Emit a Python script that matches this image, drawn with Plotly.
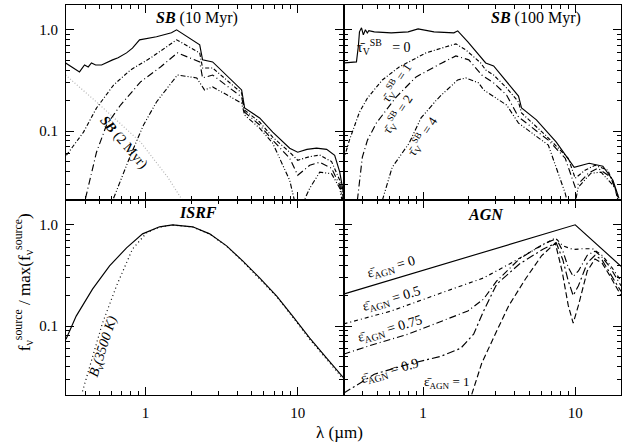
import math
import plotly.graph_objects as go
from plotly.subplots import make_subplots

FONT = "Liberation Serif, Times New Roman, DejaVu Serif, serif"

# ---------------- data (wavelength in micron, normalised flux) ----------------
# SB 10 Myr
sb10_wl_t0 = [0.298, 0.33, 0.368, 0.397, 0.42, 0.441, 0.47, 0.514, 0.56, 0.607, 0.66, 0.75, 0.82, 0.913,
              1.18, 1.48, 1.6, 2.27, 2.37, 2.76, 4.28, 4.48, 5.62, 6.85, 8.86, 10.0, 11.5, 13.3, 15.5,
              17.5, 18.9, 20.1]
sb10_f_t0 = [0.471, 0.43, 0.384, 0.45, 0.43, 0.471, 0.45, 0.45, 0.48, 0.505, 0.53, 0.592, 0.66, 0.796,
             0.853, 0.934, 1.0, 0.71, 0.505, 0.482, 0.255, 0.169, 0.135, 0.0977, 0.0679, 0.0619, 0.066,
             0.068, 0.066, 0.0578, 0.0393, 0.0232]
sb10_wl_t1 = [0.302, 0.391, 0.476, 0.616, 0.797, 1.079, 1.6, 2.27, 2.37, 2.76, 4.28, 4.48, 5.62, 6.85,
              8.86, 10.0, 12.0, 13.95, 16.7, 18.9, 20.1]
sb10_f_t1 = [0.0578, 0.0977, 0.169, 0.285, 0.402, 0.528, 0.796, 0.592, 0.42, 0.42, 0.238, 0.161, 0.123,
             0.0872, 0.0619, 0.0516, 0.056, 0.058, 0.05, 0.0327, 0.0207]
sb10_wl_t2 = [0.403, 0.476, 0.554, 0.685, 0.927, 1.255, 1.62, 2.27, 2.37, 2.76, 4.28, 4.48, 5.62, 6.85,
              8.86, 10.0, 12.0, 13.95, 16.7, 18.9, 20.1]
sb10_f_t2 = [0.0217, 0.0619, 0.115, 0.181, 0.306, 0.430, 0.592, 0.482, 0.335, 0.358, 0.217, 0.154, 0.115,
             0.0814, 0.054, 0.0367, 0.046, 0.0493, 0.043, 0.0292, 0.0185]
sb10_wl_t4 = [0.616, 0.797, 0.970, 1.18, 1.62, 2.17, 2.44, 2.76, 4.28, 4.48, 5.62, 6.85, 8.86, 10.0,
              12.0, 13.95, 16.7, 18.9, 20.1]
sb10_f_t4 = [0.0217, 0.0578, 0.115, 0.194, 0.358, 0.335, 0.255, 0.273, 0.189, 0.144, 0.107, 0.076,
             0.0327, 0.015, 0.0273, 0.0393, 0.038, 0.0273, 0.0165]
sb2_wl = [0.298, 0.476, 0.927, 1.4, 1.75, 2.0]
sb2_f = [0.358, 0.194, 0.078, 0.035, 0.0207, 0.016]

# SB 100 Myr
sb100_wl_t0 = [0.305, 0.365, 0.376, 0.382, 0.394, 0.405, 0.418, 0.43, 0.44, 0.478, 0.618, 0.798, 0.927,
               1.18, 1.595, 1.69, 1.97, 2.32, 2.58, 2.91, 3.54, 4.24, 4.44, 5.56, 7.51, 9.85, 12.35,
               15.2, 17.7, 19.4]
sb100_f_t0 = [0.471, 0.482, 0.7, 0.955, 1.047, 0.892, 1.0, 0.93, 0.98, 0.955, 0.934, 0.955, 1.02, 0.955,
              0.934, 0.977, 0.76, 0.57, 0.471, 0.44, 0.306, 0.222, 0.169, 0.129, 0.078, 0.044, 0.0482,
              0.045, 0.0327, 0.0217]
sb100_wl_t1 = [0.300, 0.328, 0.382, 0.431, 0.540, 0.697, 1.046, 1.643, 1.91, 2.39, 2.58, 2.91, 3.54, 4.24,
               4.44, 6.37, 9.0, 10.0, 11.6, 13.5, 16.4, 19.1]
sb100_f_t1 = [0.0516, 0.0814, 0.154, 0.212, 0.320, 0.430, 0.592, 0.727, 0.634, 0.471, 0.402, 0.358,
              0.267, 0.194, 0.151, 0.0913, 0.054, 0.0343, 0.0411, 0.046, 0.0411, 0.0232]
sb100_wl_t2 = [0.370, 0.399, 0.431, 0.493, 0.666, 0.900, 1.331, 1.643, 2.00, 2.43, 2.91, 3.54, 4.24,
               6.66, 8.60, 10.0, 12.2, 14.1, 17.2, 19.1]
sb100_f_t2 = [0.0207, 0.0553, 0.0814, 0.120, 0.217, 0.343, 0.471, 0.553, 0.505, 0.358, 0.299, 0.227,
              0.138, 0.0814, 0.054, 0.0279, 0.0384, 0.043, 0.035, 0.0222]
sb100_wl_t4 = [0.540, 0.627, 0.810, 0.970, 1.216, 1.311, 1.69, 1.91, 2.32, 2.50, 3.54, 4.24, 6.66, 8.60,
               9.5, 10.46, 12.7, 14.8, 18.2, 19.1]
sb100_f_t4 = [0.0207, 0.044, 0.076, 0.135, 0.20, 0.225, 0.32, 0.335, 0.299, 0.255, 0.181, 0.120, 0.0727,
              0.0243, 0.013, 0.0279, 0.0384, 0.0393, 0.0279, 0.0207]

# ISRF
isrf_wl = [0.30, 0.35, 0.448, 0.58, 0.75, 0.956, 1.236, 1.505, 2.04, 2.64, 3.41, 4.35, 5.62, 7.28, 9.27,
           12.0, 15.5, 20.1]
isrf_f = [0.0743, 0.1256, 0.232, 0.393, 0.592, 0.814, 0.955, 1.0, 0.955, 0.814, 0.620, 0.440, 0.299,
          0.198, 0.1256, 0.076, 0.0482, 0.0306]
bb_wl = [0.385, 0.448, 0.521, 0.644, 0.821, 1.015, 1.236, 1.505, 2.04, 2.64, 3.41, 4.35, 5.62, 7.28,
         9.27, 12.0, 15.5, 20.1]
bb_f = [0.0227, 0.0504, 0.107, 0.249, 0.578, 0.833, 0.95, 0.995, 0.95, 0.81, 0.615, 0.435, 0.295, 0.195,
        0.123, 0.074, 0.047, 0.0295]

# AGN
agn_wl_e0 = [0.3, 10.0, 20.0]
agn_f_e0 = [0.207, 1.0, 0.39]
agn_wl_e05 = [0.3, 0.618, 1.311, 2.5, 3.7, 5.9, 7.4, 8.3, 9.7, 11.0, 13.0, 15.0, 17.0, 20.0]
agn_f_e05 = [0.105, 0.141, 0.212, 0.299, 0.411, 0.62, 0.743, 0.62, 0.57, 0.58, 0.58, 0.5, 0.4, 0.28]
agn_wl_e075 = [0.3, 0.478, 0.798, 1.311, 1.97, 2.5, 3.05, 4.3, 6.18, 7.51, 8.3, 9.0, 9.7, 10.5, 12.0,
               13.5, 15.0, 17.0, 20.0]
agn_f_e075 = [0.0528, 0.0663, 0.0833, 0.112, 0.141, 0.185, 0.279, 0.461, 0.648, 0.727, 0.55, 0.38, 0.31,
              0.35, 0.5, 0.55, 0.48, 0.38, 0.25]
agn_wl_e09 = [0.3, 0.478, 0.798, 1.311, 1.77, 2.15, 2.5, 3.05, 4.30, 6.18, 7.51, 8.3, 9.0, 9.7, 10.5,
              12.0, 13.5, 15.0, 17.0, 20.0]
agn_f_e09 = [0.0217, 0.0335, 0.042, 0.0504, 0.0605, 0.0833, 0.141, 0.26, 0.41, 0.578, 0.663, 0.45, 0.28,
             0.2, 0.25, 0.42, 0.5, 0.45, 0.33, 0.22]
agn_wl_e1 = [2.09, 2.43, 3.0, 3.65, 4.71, 6.0, 7.4, 8.2, 9.0, 9.7, 10.5, 12.0, 13.5, 15.0, 17.0, 20.0]
agn_f_e1 = [0.0212, 0.043, 0.085, 0.158, 0.292, 0.493, 0.66, 0.35, 0.16, 0.107, 0.16, 0.35, 0.46, 0.42,
            0.31, 0.2]

x_ticks = [1, 10]
x_ticktext = ["1", "10"]
x_minor = [0.3, 0.4, 0.5, 0.6, 0.7, 0.8, 0.9, 2, 3, 4, 5, 6, 7, 8, 9, 20]
y_ticks = [0.1, 1.0]
y_ticktext = ["0.1", "1.0"]
y_minor = [0.02, 0.03, 0.04, 0.05, 0.06, 0.07, 0.08, 0.09, 0.2, 0.3, 0.4, 0.5, 0.6, 0.7, 0.8, 0.9]

# ---------------- figure ----------------
fig = make_subplots(rows=2, cols=2, horizontal_spacing=0, vertical_spacing=0)

SOLID = "solid"
D1 = "4px,2px,1px,2px"
D2 = "7px,3px,1px,3px"
D4 = "5px,2px,1px,2px,1px,2px"


def add(wl, f, row, col, dash, color="black", width=1.15):
    fig.add_trace(go.Scatter(x=wl, y=f, mode="lines", showlegend=False, hoverinfo="skip",
                             line=dict(color=color, width=width, dash=dash)), row=row, col=col)


add(sb2_wl, sb2_f, 1, 1, "1px,2px", color="#b4b4b4", width=1.2)
add(sb10_wl_t0, sb10_f_t0, 1, 1, SOLID)
add(sb10_wl_t1, sb10_f_t1, 1, 1, D1)
add(sb10_wl_t2, sb10_f_t2, 1, 1, D2)
add(sb10_wl_t4, sb10_f_t4, 1, 1, D4)

add(sb100_wl_t0, sb100_f_t0, 1, 2, SOLID)
add(sb100_wl_t1, sb100_f_t1, 1, 2, D1)
add(sb100_wl_t2, sb100_f_t2, 1, 2, D2)
add(sb100_wl_t4, sb100_f_t4, 1, 2, D4)

add(isrf_wl, isrf_f, 2, 1, SOLID)
add(bb_wl, bb_f, 2, 1, "1px,3px", width=1.2)

add(agn_wl_e0, agn_f_e0, 2, 2, SOLID)
add(agn_wl_e05, agn_f_e05, 2, 2, "4px,3px,1px,3px")
add(agn_wl_e075, agn_f_e075, 2, 2, "7px,3px,1px,3px")
add(agn_wl_e09, agn_f_e09, 2, 2, "8px,3px,2px,3px")
add(agn_wl_e1, agn_f_e1, 2, 2, "6px,3px")

tickfont = dict(family=FONT, size=15, color="black")
common = dict(type="log", ticks="inside", ticklen=8, tickwidth=1, tickcolor="black",
              showline=True, linecolor="black", linewidth=1.2, mirror="ticks",
              showgrid=False, zeroline=False, tickfont=tickfont, ticklabelstandoff=4)

for r in (1, 2):
    for c in (1, 2):
        fig.update_xaxes(range=[math.log10(0.3), math.log10(20)], tickmode="array",
                         tickvals=x_ticks, ticktext=x_ticktext, showticklabels=(r == 2),
                         minor=dict(tickmode="array", tickvals=x_minor, ticks="inside", ticklen=4,
                                    tickcolor="black", showgrid=False),
                         row=r, col=c, **common)
        fig.update_yaxes(range=[-1.68, 0.245], tickmode="array",
                         tickvals=y_ticks, ticktext=y_ticktext, showticklabels=(c == 1),
                         minor=dict(tickmode="array", tickvals=y_minor, ticks="inside", ticklen=4,
                                    tickcolor="black", showgrid=False),
                         row=r, col=c, **common)

ann = []


def note(text, x, y, size=15, angle=0, yanchor="middle"):
    ann.append(dict(text=text, x=x, y=y, xref="paper", yref="paper", showarrow=False,
                    textangle=angle, xanchor="center", yanchor=yanchor,
                    font=dict(family=FONT, size=size, color="black")))


note("<b><i>SB</i></b> (10 Myr)", 0.236, 0.967, size=16)
note("<b><i>SB</i></b> (100 Myr)", 0.847, 0.967, size=16)
note("<b><i>ISRF</i></b>", 0.238, 0.467, size=16)
note("<b><i>AGN</i></b>", 0.757, 0.462, size=16)
note("<b><i>SB</i></b> (2 Myr)", 0.1045, 0.646, size=14, angle=49)
note("τ̄<sub>V</sub><sup>SB</sup>   = 0", 0.573, 0.892, size=14)
note("τ̄<sub>V</sub><sup>SB</sup> = 1", 0.595, 0.80, size=13, angle=-57)
note("τ̄<sub>V</sub><sup>SB</sup> = 2", 0.598, 0.72, size=13, angle=-57)
note("τ̄<sub>V</sub><sup>SB</sup> = 4", 0.642, 0.665, size=13, angle=-57)
note("<i>B<sub>ν</sub>(3500 K)</i>", 0.0667, 0.123, size=14, angle=-72)
note("ε̄<sub>AGN</sub> = 0", 0.587, 0.326, size=14, angle=-16)
note("ε̄<sub>AGN</sub> = 0.5", 0.587, 0.244, size=14, angle=-16)
note("ε̄<sub>AGN</sub> = 0.75", 0.584, 0.167, size=14, angle=-16)
note("ε̄<sub>AGN</sub> = 0.9", 0.584, 0.0615, size=14, angle=-16)
note("ε̄<sub>AGN</sub> = 1", 0.686, 0.031, size=13)
note("λ (µm)", 0.492, -0.095, size=17)
note("f<sub>ν</sub><sup>source</sup> / max(f<sub>ν</sub><sup>source</sup>)", -0.075, 0.29, size=17, angle=-90)

fig.update_layout(
    width=622, height=447,
    margin=dict(l=66, r=1, t=5, b=52),
    paper_bgcolor="white", plot_bgcolor="white",
    font=dict(family=FONT, color="black"),
    annotations=ann,
    showlegend=False,
)

fig.write_html("out.html", config={"displayModeBar": False},
               post_script="document.body.style.margin='0px';")
